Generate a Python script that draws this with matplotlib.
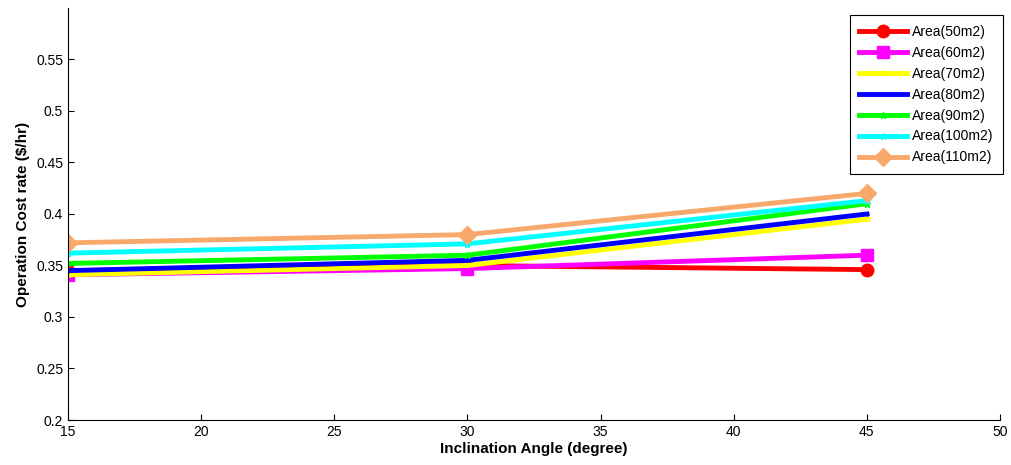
import matplotlib
matplotlib.use("Agg")
import matplotlib.pyplot as plt

# Data
angles = [15, 30, 45]
labels = ["Area(50m2)", "Area(60m2)", "Area(70m2)", "Area(80m2)",
          "Area(90m2)", "Area(100m2)", "Area(110m2)"]
area50 = [0.345, 0.350, 0.346]
area60 = [0.341, 0.347, 0.360]
area70 = [0.341, 0.350, 0.395]
area80 = [0.345, 0.355, 0.400]
area90 = [0.352, 0.360, 0.410]
area100 = [0.362, 0.371, 0.413]
area110 = [0.372, 0.380, 0.420]
series = [area50, area60, area70, area80, area90, area100, area110]

colors = ["#FF0000", "#FF00FF", "#FFFF00", "#0000FF", "#00FF00", "#00FFFF", "#F9A86C"]
markers = ["o", "s", "*", ".", "*", "*", "D"]
msizes = [9, 9, 4, 4, 5, 5, 9]

plt.rcParams["font.family"] = "Liberation Sans"

fig = plt.figure(figsize=(10.11, 4.65), dpi=100)
ax = fig.add_axes([68 / 1011, 45 / 465, 932 / 1011, 412 / 465])

for vals, lab, col, mk, ms in zip(series, labels, colors, markers, msizes):
    ax.plot(angles, vals, color=col, marker=mk, markersize=ms,
            linewidth=3.5, label=lab)

ax.set_xlim(15, 50)
ax.set_ylim(0.2, 0.6)
ax.set_xticks(range(15, 51, 5))
ax.set_yticks([0.2, 0.25, 0.3, 0.35, 0.4, 0.45, 0.5, 0.55])
ax.set_yticklabels(["0.2", "0.25", "0.3", "0.35", "0.4", "0.45", "0.5", "0.55"])
ax.tick_params(direction="in", labelsize=10, length=4)

ax.spines["top"].set_visible(False)
ax.spines["right"].set_visible(False)

ax.set_xlabel("Inclination Angle (degree)", fontsize=11, fontweight="bold", labelpad=2)
ax.set_ylabel("Operation Cost rate ($/hr)", fontsize=11, fontweight="bold", labelpad=4)

leg = ax.legend(loc="upper right", bbox_to_anchor=(1.003, 0.983), fontsize=10,
                fancybox=False, edgecolor="black", framealpha=1,
                handlelength=3.4, handletextpad=0.35, labelspacing=0.5,
                borderpad=0.7, borderaxespad=0.0)
leg.get_frame().set_linewidth(0.8)

fig.savefig("out.png", dpi=100, facecolor="white")
